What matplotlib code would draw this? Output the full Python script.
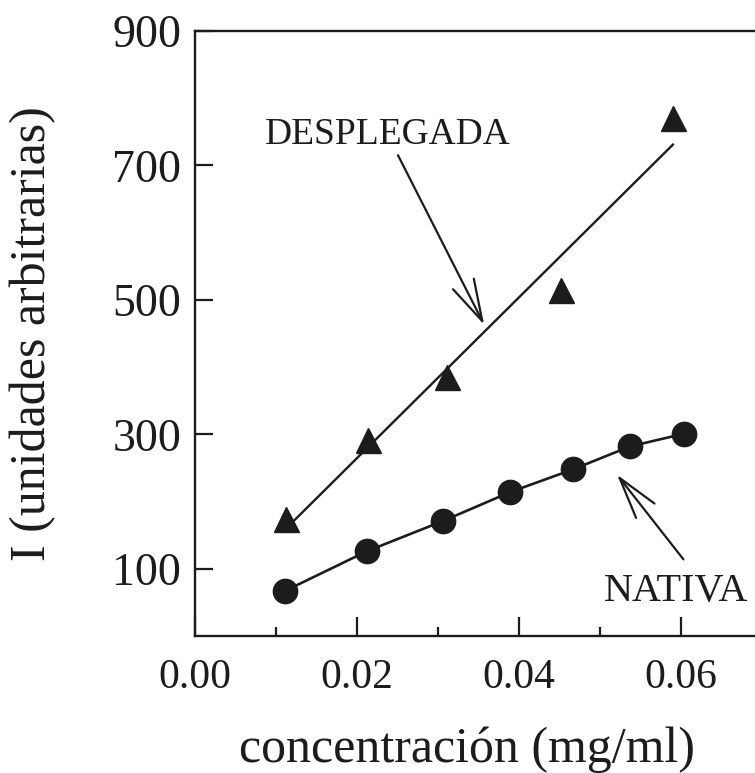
import numpy as np
import matplotlib
matplotlib.use("Agg")
import matplotlib.pyplot as plt
from matplotlib.ticker import FixedLocator, FixedFormatter

# Fluorescence intensity vs. protein concentration
conc_desplegada = [0.0112, 0.0214, 0.0311, 0.0452, 0.0590]
int_desplegada = [174, 291, 385, 514, 771]

conc_nativa = [0.0111, 0.0212, 0.0306, 0.0389, 0.0467, 0.0537, 0.0604]
int_nativa = [67, 126, 171, 214, 248, 282, 301]

x_major = [0.00, 0.02, 0.04, 0.06]
x_labels = ["0.00", "0.02", "0.04", "0.06"]
x_minor = [0.01, 0.03, 0.05]
y_ticks = [100, 300, 500, 700, 900]

ink = "#1c1c1c"
plt.rcParams["font.family"] = ["Liberation Serif", "DejaVu Serif"]
plt.rcParams["text.color"] = ink

fig = plt.figure(figsize=(7.55, 7.73), dpi=100)
ax = fig.add_axes([195 / 755, 1 - 636 / 773, 567 / 755, 605 / 773])

ax.set_xlim(0, 0.07)
ax.set_ylim(0, 900)

# Unfolded protein: points and least-squares line
ax.plot(conc_desplegada, int_desplegada, linestyle="none", marker="^",
        markersize=18, color=ink, zorder=3)
slope, icpt = np.polyfit(conc_desplegada, int_desplegada, 1)
xfit = np.array([min(conc_desplegada), max(conc_desplegada)])
ax.plot(xfit, slope * xfit + icpt, color=ink, linewidth=1.7, zorder=2)

# Native protein: connected points
ax.plot(conc_nativa, int_nativa, marker="o", markersize=17.5, color=ink,
        linewidth=1.9, zorder=3)

arrow = dict(arrowstyle="->,head_length=1.5,head_width=0.42",
             mutation_scale=20, color=ink, linewidth=1.6,
             shrinkA=0, shrinkB=0)
ax.annotate("DESPLEGADA", xy=(0.0357, 463), xytext=(0.0238, 745),
            fontsize=27, ha="center", va="center", arrowprops=arrow)
ax.annotate("", xy=(0.0521, 240), xytext=(0.0603, 114), arrowprops=arrow)
ax.text(0.0594, 66, "NATIVA", fontsize=29, ha="center", va="center")

for side in ("top", "left", "bottom"):
    ax.spines[side].set_linewidth(1.7)
    ax.spines[side].set_color(ink)
ax.spines["right"].set_visible(False)

ax.xaxis.set_major_locator(FixedLocator(x_major))
ax.xaxis.set_major_formatter(FixedFormatter(x_labels))
ax.xaxis.set_minor_locator(FixedLocator(x_minor))
ax.yaxis.set_major_locator(FixedLocator(y_ticks))
ax.yaxis.set_minor_locator(FixedLocator([]))

ax.tick_params(axis="x", which="major", direction="in", length=14, width=1.6,
               labelsize=30, pad=16, color=ink, labelcolor=ink)
ax.tick_params(axis="x", which="minor", direction="in", length=6.5, width=1.6,
               color=ink)
ax.tick_params(axis="y", which="major", direction="in", length=13, width=1.6,
               labelsize=33, pad=10, color=ink, labelcolor=ink)

ax.set_xlabel("concentración (mg/ml)", fontsize=36, color=ink)
ax.xaxis.set_label_coords(272 / 567, -0.15)
ax.set_ylabel("I (unidades arbitrarias)", fontsize=36, color=ink)
ax.yaxis.set_label_coords(-0.245, 0.5)

fig.savefig("out.png", dpi=100, facecolor="white")
